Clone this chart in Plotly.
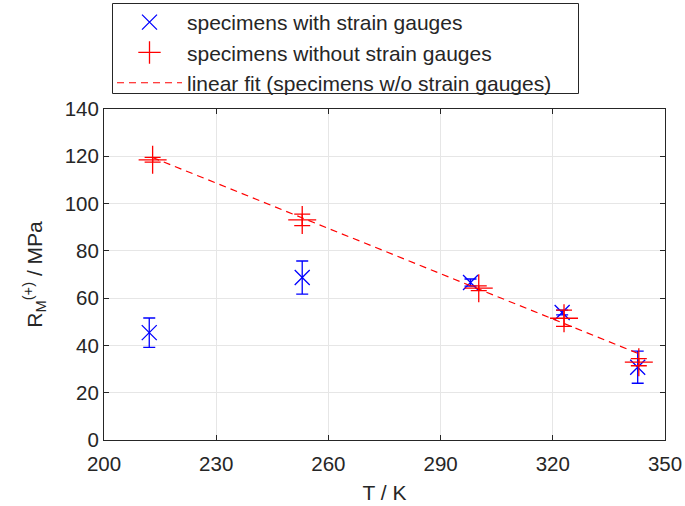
import plotly.graph_objects as go

# Data
T_with = [212.1, 253.0, 298.0, 322.5, 342.7]
R_with = [45.4, 68.7, 66.6, 53.9, 30.8]
E_with = [6.2, 7.0, 1.5, 1.0, 6.8]

T_without = [213.0, 253.0, 300.2, 323.0, 343.0]
R_without = [118.5, 93.1, 64.2, 51.5, 32.9]
E_without = [1.0, 2.4, 1.0, 3.4, 1.5]

fit_T = [213.0, 343.0]
fit_R = [119.5, 36.5]

x_ticks = [200, 230, 260, 290, 320, 350]
y_ticks = [0, 20, 40, 60, 80, 100, 120, 140]

FONT = "Liberation Sans, Arial, Helvetica, sans-serif"
TXT = "#262626"

W, H = 685, 506
ML, MR, MT, MB = 104, 20, 109, 66
PW, PH = W - ML - MR, H - MT - MB


def px_to_paper_x(px):
    return (px - ML) / PW


def px_to_paper_y(py):
    return (H - MB - py) / PH


fig = go.Figure()
fig.add_trace(go.Scatter(
    x=T_with, y=R_with, mode="markers", name="specimens with strain gauges",
    marker=dict(symbol="x-thin", size=15, line=dict(color="#0000ff", width=1.3), color="#0000ff"),
    error_y=dict(type="data", array=E_with, visible=True, color="#0000ff", thickness=1.3, width=6),
))
fig.add_trace(go.Scatter(
    x=T_without, y=R_without, mode="markers", name="specimens without strain gauges",
    marker=dict(symbol="cross-thin", size=20, line=dict(color="#ff0000", width=1.3), color="#ff0000"),
    error_y=dict(type="data", array=E_without, visible=True, color="#ff0000", thickness=1.3, width=8),
))
fig.add_trace(go.Scatter(
    x=fit_T, y=fit_R, mode="lines", name="linear fit (specimens w/o strain gauges)",
    line=dict(color="#ff0000", width=1.2, dash="7px,5px"),
))

axis_common = dict(
    showline=True, linecolor=TXT, linewidth=1, mirror="ticks",
    ticks="inside", ticklen=5, tickcolor=TXT, tickwidth=1,
    showgrid=True, gridcolor="#e6e6e6", gridwidth=1, zeroline=False,
    tickfont=dict(family=FONT, size=20.5, color=TXT),
)

# legend box (drawn as a shape so its size matches the reference)
fig.add_shape(type="rect", xref="paper", yref="paper",
              x0=px_to_paper_x(112.5), x1=px_to_paper_x(578.5),
              y0=px_to_paper_y(93.5), y1=px_to_paper_y(3.5),
              line=dict(color=TXT, width=1), fillcolor="rgba(0,0,0,0)", layer="above")

fig.update_layout(
    width=W, height=H,
    margin=dict(l=ML, r=MR, t=MT, b=MB, autoexpand=False),
    paper_bgcolor="white", plot_bgcolor="white",
    font=dict(family=FONT, size=20.5, color=TXT),
    xaxis=dict(range=[200, 350], tickvals=x_ticks, ticktext=[str(v) for v in x_ticks],
               ticklabelstandoff=5,
               title=dict(text="T / K", font=dict(family=FONT, size=21, color=TXT), standoff=11),
               **axis_common),
    yaxis=dict(range=[0, 140], tickvals=y_ticks, ticktext=[str(v) for v in y_ticks],
               title=dict(text="R<sub>M</sub><sup>(+)</sup> / MPa", font=dict(family=FONT, size=21, color=TXT), standoff=16),
               **axis_common),
    legend=dict(
        x=px_to_paper_x(112), y=px_to_paper_y(2), xanchor="left", yanchor="top",
        borderwidth=0, bgcolor="rgba(0,0,0,0)",
        font=dict(family=FONT, size=21, color=TXT),
        itemwidth=65, tracegroupgap=0,
    ),
    showlegend=True,
)

fig.write_html("out.html", config={"displayModeBar": False},
               post_script="document.body.style.margin='0';")
